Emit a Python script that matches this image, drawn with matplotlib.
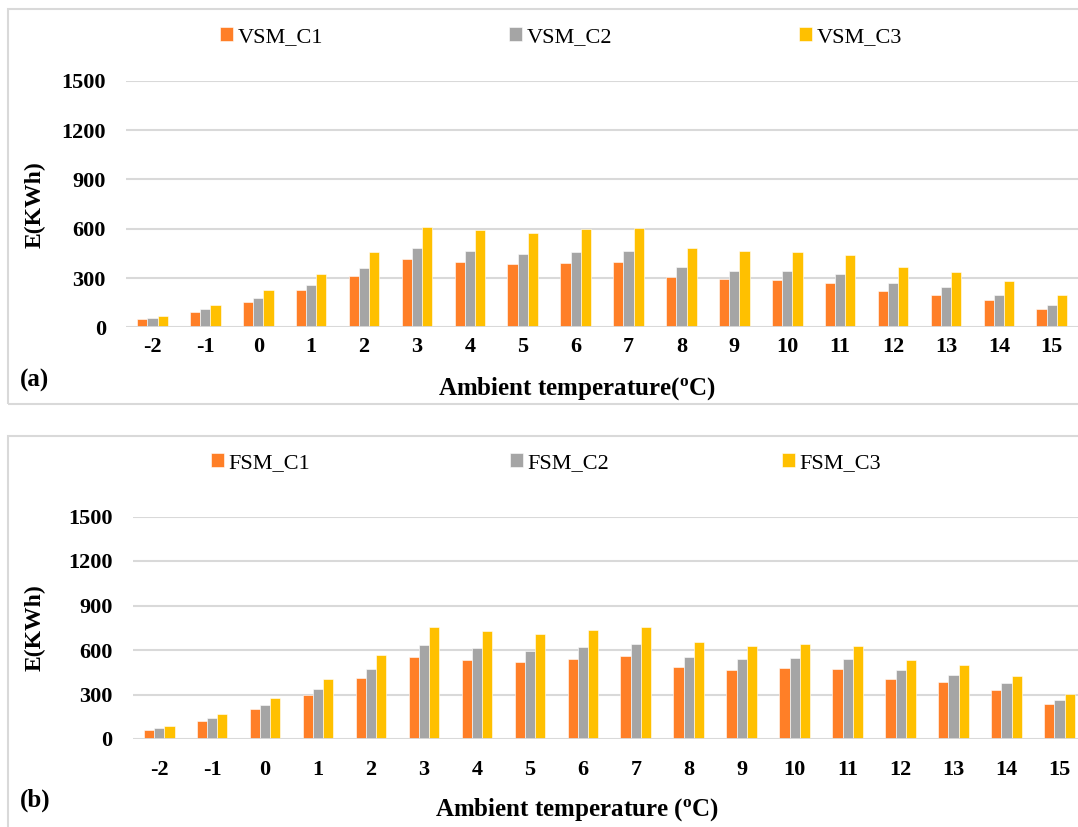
import matplotlib
matplotlib.use("Agg")
import matplotlib.pyplot as plt
from matplotlib.patches import Rectangle
import numpy as np

plt.rcParams['font.family'] = ['Liberation Serif', 'DejaVu Serif']
plt.rcParams['mathtext.fontset'] = 'custom'
plt.rcParams['mathtext.rm'] = 'Liberation Serif:bold'
plt.rcParams['mathtext.it'] = 'Liberation Serif:bold'
plt.rcParams['mathtext.bf'] = 'Liberation Serif:bold'

temps = ['-2', '-1', '0', '1', '2', '3', '4', '5', '6', '7', '8', '9',
         '10', '11', '12', '13', '14', '15']

vsm_c1 = [50, 95, 156, 227, 314, 416, 399, 383, 393, 395, 308, 292, 290, 271, 223, 198, 166, 111]
vsm_c2 = [58, 110, 178, 257, 361, 481, 464, 444, 458, 462, 367, 344, 344, 326, 271, 243, 198, 134]
vsm_c3 = [69, 136, 225, 324, 458, 612, 594, 574, 596, 606, 482, 462, 460, 440, 369, 335, 282, 195]

fsm_c1 = [61, 121, 200, 294, 413, 551, 533, 519, 541, 557, 483, 467, 479, 472, 404, 382, 328, 234]
fsm_c2 = [72, 139, 229, 337, 474, 634, 611, 595, 622, 640, 553, 537, 548, 539, 463, 434, 375, 265]
fsm_c3 = [85, 169, 276, 404, 568, 757, 728, 708, 737, 757, 654, 629, 640, 627, 533, 499, 427, 303]

yticks = [0, 300, 600, 900, 1200, 1500]
colors = ['#FF7F27', '#A5A5A5', '#FFC000']

W, H = 1078, 827
fig = plt.figure(figsize=(W / 100, H / 100), dpi=100)


def px(x, y):
    return x / W, 1 - y / H


# panel borders
for (x0, y0, x1, y1) in [(8, 9, 1090, 404), (8, 436, 1090, 840)]:
    fig.add_artist(Rectangle((x0 / W, 1 - y1 / H), (x1 - x0) / W, (y1 - y0) / H,
                             transform=fig.transFigure, fill=False,
                             edgecolor='#D9D9D9', linewidth=1.5))


def panel(rect, series, names, legend_pos, xpad, xlabel, xlabel_y, tag, tag_y, ylabel_y):
    ax = fig.add_axes(rect)
    x = np.arange(len(temps))
    w = 0.193
    handles = []
    for i, (vals, c) in enumerate(zip(series, colors)):
        b = ax.bar(x + (i - 1) * w, vals, width=w, color=c, edgecolor='white',
                   linewidth=0.4, zorder=3)
        handles.append(b)
    ax.set_xlim(-0.5, len(temps) - 0.5)
    ax.set_ylim(0, 1500)
    ax.set_yticks(yticks)
    ax.set_xticks(x)
    ax.set_xticklabels(temps)
    for s in ax.spines.values():
        s.set_visible(False)
    ax.grid(axis='y', color='#D9D9D9', linewidth=1.5, zorder=0)
    ax.axhline(0, color='#D9D9D9', linewidth=2, zorder=4)
    ax.tick_params(axis='both', length=0, labelsize=16)
    ax.tick_params(axis='y', pad=14.5)
    ax.tick_params(axis='x', pad=xpad)
    for lab in ax.get_xticklabels() + ax.get_yticklabels():
        lab.set_fontweight('bold')
    for h, n, (lx, ly) in zip(handles, names, legend_pos):
        fx, fy = px(lx, ly)
        fig.legend([h], [n], loc='center left', bbox_to_anchor=(fx, fy),
                   frameon=False, fontsize=16, handlelength=0.6, handleheight=0.55,
                   handletextpad=0.2, borderpad=0, borderaxespad=0)
    fx, fy = px(577, xlabel_y)
    fig.text(fx, fy, xlabel, ha='center', va='center', fontsize=18, fontweight='bold')
    fx, fy = px(20, tag_y)
    fig.text(fx, fy, tag, ha='left', va='center', fontsize=18, fontweight='bold')
    fx, fy = px(35, ylabel_y)
    fig.text(fx, fy, 'E(KWh)', ha='center', va='center', rotation=90,
             fontsize=17, fontweight='bold')
    return ax


panel([126 / W, 1 - 327.3 / H, 952.2 / W, 246.5 / H],
      [vsm_c1, vsm_c2, vsm_c3], ['VSM_C1', 'VSM_C2', 'VSM_C3'],
      [(220, 37), (509, 37), (799, 37)], 7,
      r'Ambient temperature($^{\mathrm{o}}$C)', 389, '(a)', 380, 205)

panel([132.7 / W, 1 - 739 / H, 953.3 / W, 222.5 / H],
      [fsm_c1, fsm_c2, fsm_c3], ['FSM_C1', 'FSM_C2', 'FSM_C3'],
      [(211, 463), (510, 463), (782, 463)], 15,
      r'Ambient temperature ($^{\mathrm{o}}$C)', 810, '(b)', 800, 628)

fig.savefig('out.png', dpi=100)
